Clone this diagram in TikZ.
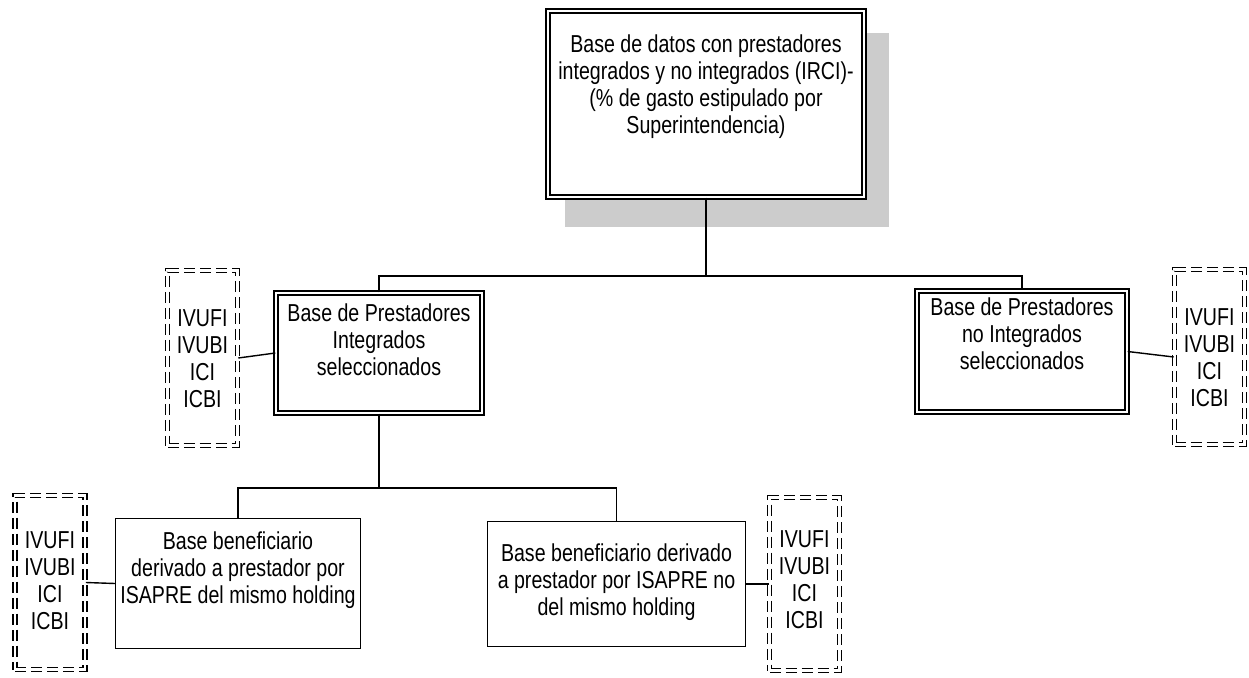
\documentclass[tikz,border=0pt]{standalone}
\usepackage{fontspec}
\setmainfont{Liberation Sans}[FakeStretch=0.80]
\definecolor{shadowgray}{HTML}{CCCCCC}
\begin{document}
\begin{tikzpicture}[x=1pt,y=-1pt,
  txt/.style={align=center, inner sep=0pt, font=\fontsize{24.5}{27}\selectfont},
  dblbox/.style={draw, line width=1.4pt, double, double distance=2.6pt, fill=white, inner sep=0pt},
  plainbox/.style={draw, line width=1.4pt, fill=white, inner sep=0pt},
  indbox/.style={draw, line width=1.6pt, double, double distance=2.4pt,
    dash pattern=on 11pt off 5pt, inner sep=0pt},
  link/.style={line width=1.4pt}]
\useasboundingbox (0,0) rectangle (1249,677);

% drop shadow behind the main database box
\fill[shadowgray] (565,33) rectangle (889,227);

% boxes
\node[dblbox, minimum width=316, minimum height=186] (top) at (706,104) {};
\node[dblbox, minimum width=206, minimum height=120] (midL) at (379,353) {};
\node[dblbox, minimum width=210, minimum height=121] (midR) at (1022,351.5) {};
\node[plainbox, minimum width=244.5, minimum height=129.5] (lowL) at (238,583.5) {};
\node[plainbox, minimum width=257.5, minimum height=124.5] (lowM) at (616.5,584) {};

% indicator boxes
\node[indbox, minimum width=70, minimum height=175] (indA) at (202.5,358) {};
\node[indbox, minimum width=70, minimum height=175] (indB) at (1209.5,357) {};
\node[indbox, minimum width=70, minimum height=174] (indC) at (50,582.5) {};
\node[indbox, minimum width=70, minimum height=173] (indD) at (804.5,584) {};

% box texts
\node[txt] (topT) at (706,86.5) {Base de datos con prestadores\\integrados y no integrados (IRCI)-\\(\% de gasto estipulado por\\Superintendencia)};
\node[txt] (midLT) at (379,340) {Base de Prestadores\\Integrados\\seleccionados};
\node[txt] (midRT) at (1022,334) {Base de Prestadores\\no Integrados\\seleccionados};
\node[txt] (lowLT) at (238,570) {Base beneficiario\\derivado a prestador por\\ISAPRE del mismo holding};
\node[txt] (lowMT) at (616.5,582) {Base beneficiario derivado\\a prestador por ISAPRE no\\del mismo holding};

% indicator texts
\node[txt] (indAT) at (202.5,359) {IVUFI\\IVUBI\\ICI\\ICBI};
\node[txt] (indBT) at (1209.5,358) {IVUFI\\IVUBI\\ICI\\ICBI};
\node[txt] (indCT) at (50,581) {IVUFI\\IVUBI\\ICI\\ICBI};
\node[txt] (indDT) at (804.5,580) {IVUFI\\IVUBI\\ICI\\ICBI};

% tree connectors
\coordinate (j1) at (706,276);
\coordinate (j2) at (379,488);
\draw[link] (top.south) -- (j1);
\draw[link] (midL.north) |- (j1) -| (midR.north);
\draw[link] (midL.south) -- (j2);
\draw[link] (lowL.north) |- (j2) -| (lowM.north);

% indicator connectors
\draw[link] (indA.east) -- (midL.west);
\draw[link] (midR.east) -- (indB.west);
\draw[link] (indC.east) -- (lowL.west);
\draw[link] (lowM.east) -- (indD.west);
\end{tikzpicture}
\end{document}
